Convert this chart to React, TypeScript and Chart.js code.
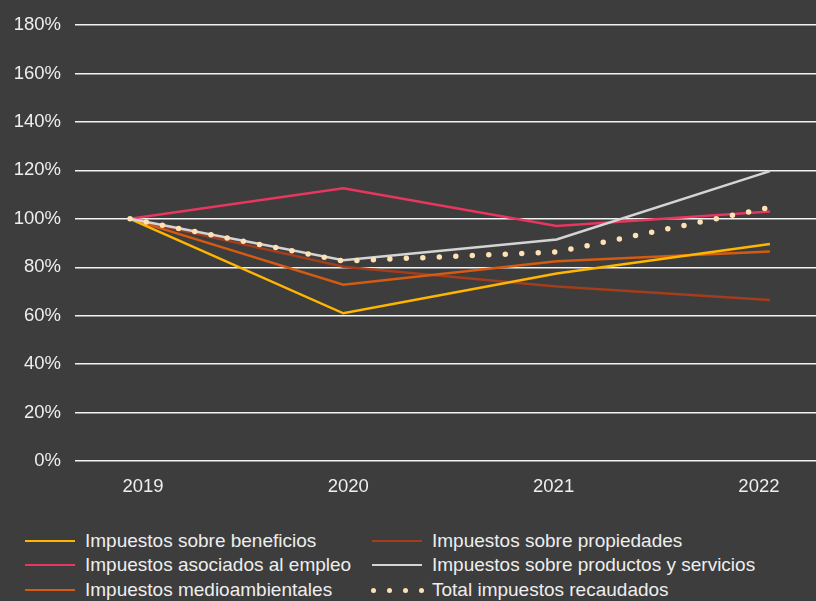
import React, { useEffect, useRef } from "react";
import { Chart, registerables } from "chart.js";
Chart.register(...registerables);

const years = [2019, 2020, 2021, 2022];
const yTickValues = [0, 20, 40, 60, 80, 100, 120, 140, 160, 180];
const beneficios = [100, 61, 77.4, 89.6];
const empleo = [100, 112.6, 97, 103];
const medioambientales = [100, 72.8, 82.5, 86.5];
const propiedades = [100, 80.2, 72.1, 66.5];
const productos = [100, 82.9, 91.5, 119.7];
const total = [100, 82.6, 86.3, 104.7];

const labels = {
  beneficios: "Impuestos sobre beneficios",
  empleo: "Impuestos asociados al empleo",
  medioambientales: "Impuestos medioambientales",
  propiedades: "Impuestos sobre propiedades",
  productos: "Impuestos sobre productos y servicios",
  total: "Total impuestos recaudados",
};

const colors = {
  beneficios: "#FFB600",
  empleo: "#E8365F",
  medioambientales: "#D55A12",
  propiedades: "#A33D1B",
  productos: "#D4D4D4",
  total: "#FFE1B4",
};

const BG = "#3d3d3d";
const TEXT = "#eeeeee";
const FONT = "'Liberation Sans', Arial, Helvetica, sans-serif";

const pts = (arr: number[]) => arr.map((v, i) => ({ x: years[i], y: v }));

export default function App() {
  const ref = useRef<HTMLCanvasElement | null>(null);

  useEffect(() => {
    if (!ref.current) return;
    const line = (key: keyof typeof colors, arr: number[]) => ({
      label: labels[key],
      data: pts(arr),
      borderColor: colors[key],
      backgroundColor: colors[key],
      borderWidth: 2.5,
      pointRadius: 0,
      tension: 0,
      xAxisID: "x2",
    });
    const chart = new Chart(ref.current, {
      type: "line",
      data: {
        datasets: [
          {
            ...line("total", total),
            borderWidth: 5.5,
            borderDash: [0, 16.5],
            borderCapStyle: "round",
          } as any,
          line("productos", productos),
          line("empleo", empleo),
          line("beneficios", beneficios),
          line("medioambientales", medioambientales),
          line("propiedades", propiedades),
        ],
      },
      options: {
        animation: false,
        responsive: false,
        layout: { padding: { top: 21, right: 0, bottom: 0, left: 0 } },
        plugins: { legend: { display: false }, tooltip: { enabled: false } },
        scales: {
          x: {
            type: "linear",
            min: 2018.669,
            max: 2022.278,
            afterBuildTicks: (s: any) => {
              s.ticks = years.map((v) => ({ value: v }));
            },
            afterFit: (s: any) => {
              s.height = 35;
            },
            ticks: {
              color: TEXT,
              font: { family: FONT, size: 18.5 },
              padding: 15,
              maxRotation: 0,
              callback: (v: any) => String(v),
            },
            grid: { display: false, drawTicks: false },
            border: { display: false },
          },
          x2: {
            type: "linear",
            min: 2018.742,
            max: 2022.216,
            display: false,
          },
          y: {
            min: 0,
            max: 180,
            afterBuildTicks: (s: any) => {
              s.ticks = yTickValues.map((v) => ({ value: v }));
            },
            afterFit: (s: any) => {
              s.width = 75;
            },
            ticks: {
              color: TEXT,
              font: { family: FONT, size: 18.5 },
              padding: 14,
              callback: (v: any) => v + "%",
            },
            grid: { color: "#f2f2f2", lineWidth: 1.5, drawTicks: false },
            border: { display: false },
          },
        },
      },
    });
    return () => chart.destroy();
  }, []);

  const legendItem = (
    key: keyof typeof colors,
    left: number,
    cy: number,
    dotted = false
  ) => (
    <div key={key}>
      {dotted ? (
        [0, 1, 2, 3].map((i) => (
          <div
            key={i}
            style={{
              position: "absolute",
              left: left + 1 + i * 16 - 2.5,
              top: cy - 2.5,
              width: 5,
              height: 5,
              borderRadius: "50%",
              background: colors[key],
            }}
          />
        ))
      ) : (
        <div
          style={{
            position: "absolute",
            left,
            top: cy - 1.25,
            width: 50,
            height: 2.5,
            background: colors[key],
          }}
        />
      )}
      <div
        style={{
          position: "absolute",
          left: left + 60,
          top: cy - 12,
          height: 24,
          lineHeight: "24px",
          fontSize: 19,
          fontFamily: FONT,
          color: TEXT,
          whiteSpace: "nowrap",
        }}
      >
        {labels[key]}
      </div>
    </div>
  );

  return (
    <div
      style={{
        position: "absolute",
        left: 0,
        top: 0,
        width: 816,
        height: 601,
        background: BG,
        overflow: "hidden",
      }}
    >
      <canvas
        ref={ref}
        width={816}
        height={496}
        style={{ position: "absolute", left: 0, top: 0, width: 816, height: 496 }}
      />
      {legendItem("beneficios", 25, 541)}
      {legendItem("empleo", 25, 565)}
      {legendItem("medioambientales", 25, 590)}
      {legendItem("propiedades", 372, 541)}
      {legendItem("productos", 372, 565)}
      {legendItem("total", 372, 590, true)}
    </div>
  );
}
